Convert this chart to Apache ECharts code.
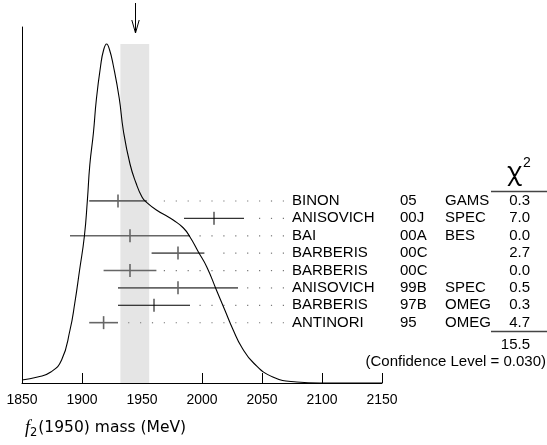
<!DOCTYPE html>
<html lang="en">
<head>
<meta charset="UTF-8">
<title>f2(1950) mass ideogram</title>
<script src="https://cdn.jsdelivr.net/npm/echarts@6/dist/echarts.min.js"></script>
<style>
    html, body { margin: 0; padding: 0; background: #fff; }
    #chart { width: 547px; height: 445px; }
</style>
</head>
<body>
<div id="chart"></div>
<script>
    // ---------- data ----------
    // measurements (MeV)
    var names  = ['BINON', 'ANISOVICH', 'BAI', 'BARBERIS', 'BARBERIS', 'ANISOVICH', 'BARBERIS', 'ANTINORI'];
    var refs   = ['05', '00J', '00A', '00C', '00C', '99B', '97B', '95'];
    var exps   = ['GAMS', 'SPEC', 'BES', '', '', 'SPEC', 'OMEG', 'OMEG'];
    var chi2   = ['0.3', '7.0', '0.0', '2.7', '0.0', '0.5', '0.3', '4.7'];
    var masses = [1930, 2010, 1940, 1980, 1940, 1980, 1960, 1918];
    var errors = [24, 25, 50, 22, 22, 50, 30, 12];

    var chi2Total = '15.5';
    var confLevel = '0.030';

    // weighted average and its error (grey band, arrow)
    var avgMass = 1944;
    var avgErr = 12;

    // ideogram curve (arbitrary units)
    var curveMass = [1850, 1863, 1874, 1883, 1890, 1894, 1898, 1902, 1904.5, 1906.5, 1909.5, 1912, 1915.5, 1918,
        1920.5, 1923, 1926, 1931, 1934.5, 1940, 1945, 1950, 1953.5, 1962, 1972, 1976, 1984.5, 1990, 1997, 2004,
        2012, 2019, 2026, 2033, 2043, 2059, 2079, 2098, 2150];
    var curveHeight = [3, 6, 11, 23, 53, 80, 113, 147, 183, 218, 250, 284, 317, 333,
        339, 333, 318, 285, 252, 219, 200, 186, 181, 173, 166, 163, 155, 146, 131, 116,
        93, 73, 53, 36, 20, 6, 1, 0, 0];

    var xTicks = [1850, 1900, 1950, 2000, 2050, 2100, 2150];

    // ---------- chart ----------
    var chart = echarts.init(document.getElementById('chart'));
    var peak = Math.max.apply(null, curveHeight);
    var txtFont = '15px "Liberation Sans", Arial, sans-serif';
    var darkRows = [1, 6];   // these bars come out crisp black, the rest grey
    var colX = [292, 400, 445]; // table columns (px)
    var chiRight = 530;

    var rows = masses.map(function (m, i) { return [m, errors[i], i]; });
    var curve = curveMass.map(function (m, i) { return [m, curveHeight[i]]; });

    function text(s, x, y, align) {
        return {
            type: 'text',
            style: { text: s, x: x, y: y, font: txtFont, fill: '#000', align: align || 'left', verticalAlign: 'middle' }
        };
    }

    var option = {
        animation: false,
        grid: { left: 22, right: 165, top: 27, bottom: 62 },
        xAxis: {
            type: 'value',
            min: xTicks[0],
            max: xTicks[xTicks.length - 1],
            interval: 50,
            axisLine: { lineStyle: { color: '#000', width: 1 } },
            axisTick: { inside: true, length: 10, lineStyle: { color: '#000' } },
            axisLabel: {
                color: '#000', fontSize: 14, fontFamily: 'Liberation Sans', margin: 10,
                formatter: function (v) { return String(v); }
            },
            splitLine: { show: false }
        },
        yAxis: [
            {
                type: 'value', min: 0, max: 356,
                axisLine: { show: true, lineStyle: { color: '#000' } },
                axisTick: { show: false },
                axisLabel: { show: false },
                splitLine: { show: false }
            },
            { type: 'value', min: -10, max: 10.47, inverse: true, show: false }
        ],
        graphic: [
            { type: 'text', left: 507, top: 160, style: { text: 'χ', font: '25px "Noto Sans"', fill: '#000' } },
            { type: 'text', left: 523, top: 156, style: { text: '2', font: '14px "Liberation Sans", Arial', fill: '#000' } },
            { type: 'line', shape: { x1: 491, y1: 191.5, x2: 547, y2: 191.5 }, style: { stroke: '#444', lineWidth: 1.3 } },
            { type: 'line', shape: { x1: 491, y1: 331.5, x2: 547, y2: 331.5 }, style: { stroke: '#444', lineWidth: 1.3 } },
            { type: 'text', right: 547 - chiRight, top: 337, style: { text: chi2Total, font: txtFont, fill: '#000' } },
            { type: 'text', right: 1, top: 354, style: { text: '(Confidence Level = ' + confLevel + ')', font: txtFont, fill: '#000' } },
            {
                type: 'text', left: 25, top: 419,
                style: {
                    text: '{f|f}{s|2}{t|(1950) mass (MeV)}',
                    rich: {
                        f: { fontFamily: 'Liberation Serif', fontStyle: 'italic', fontSize: 18, fill: '#000', verticalAlign: 'middle' },
                        s: { fontFamily: 'DejaVu Sans', fontSize: 11.5, fill: '#000', padding: [10, 1, 0, 0], verticalAlign: 'middle' },
                        t: { fontFamily: 'DejaVu Sans', fontSize: 15.5, fill: '#000', verticalAlign: 'middle' }
                    }
                }
            }
        ],
        series: [
            {
                // grey band: average +- error
                type: 'custom',
                z: 1,
                silent: true,
                xAxisIndex: 0, yAxisIndex: 0,
                data: [[avgMass - avgErr, avgMass + avgErr, peak]],
                renderItem: function (params, api) {
                    var a = api.coord([api.value(0), api.value(2)]);
                    var b = api.coord([api.value(1), 0]);
                    return { type: 'rect', shape: { x: a[0], y: a[1], width: b[0] - a[0], height: b[1] - a[1] }, style: { fill: '#e5e5e5' } };
                }
            },
            {
                type: 'line',
                z: 3,
                xAxisIndex: 0, yAxisIndex: 0,
                data: curve,
                smooth: 0.5,
                showSymbol: false,
                lineStyle: { color: '#000', width: 1.1 }
            },
            {
                // error bars, leader dots and table rows
                type: 'custom',
                z: 2,
                silent: true,
                xAxisIndex: 0, yAxisIndex: 1,
                data: rows,
                renderItem: function (params, api) {
                    var i = params.dataIndex;
                    var c = api.value(0), e = api.value(1), r = api.value(2);
                    var lo = api.coord([c - e, r]), hi = api.coord([c + e, r]), mid = api.coord([c, r]);
                    var y = mid[1];
                    var dark = darkRows.indexOf(i) >= 0;
                    var st = { stroke: dark ? '#000' : '#666', lineWidth: dark ? 1 : 1.6 };
                    var kids = [
                        { type: 'line', shape: { x1: lo[0], y1: y, x2: hi[0], y2: y }, style: st },
                        { type: 'line', shape: { x1: mid[0], y1: y - 6.5, x2: mid[0], y2: y + 6.5 }, style: st }
                    ];
                    for (var x = colX[0] - 8.7; x > hi[0] + 7.5; x -= 11.9) {
                        kids.push({ type: 'rect', shape: { x: x - 0.5, y: y - 0.5, width: 1.2, height: 1.2 }, style: { fill: '#777' } });
                    }
                    kids.push(text(names[i], colX[0], y));
                    kids.push(text(refs[i], colX[1], y));
                    kids.push(text(exps[i], colX[2], y));
                    kids.push(text(chi2[i], chiRight, y, 'right'));
                    return { type: 'group', children: kids };
                }
            },
            {
                // arrow pointing at the average
                type: 'custom',
                z: 4,
                silent: true,
                xAxisIndex: 0, yAxisIndex: 0,
                data: [[avgMass]],
                renderItem: function (params, api) {
                    var x = Math.round(api.coord([api.value(0), 0])[0]) + 0.5;
                    var st = { stroke: '#000', lineWidth: 1, fill: null };
                    return {
                        type: 'group',
                        children: [
                            { type: 'line', shape: { x1: x, y1: 3, x2: x, y2: 33 }, style: st },
                            { type: 'line', shape: { x1: x - 3.7, y1: 20, x2: x, y2: 33 }, style: st },
                            { type: 'line', shape: { x1: x + 3.7, y1: 20, x2: x, y2: 33 }, style: st }
                        ]
                    };
                }
            }
        ]
    };

    chart.setOption(option);
</script>
</body>
</html>
